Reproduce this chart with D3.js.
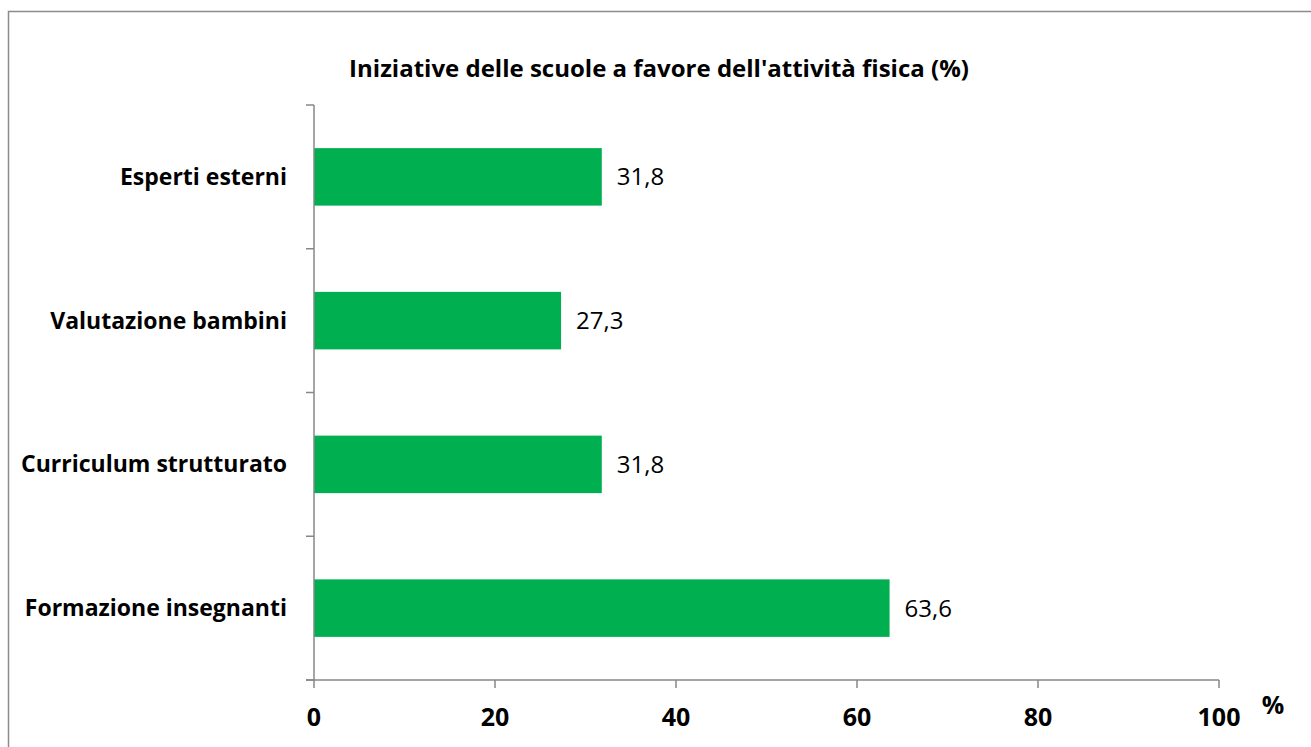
<!DOCTYPE html>
<html><head><meta charset="utf-8">
<script src="https://cdn.jsdelivr.net/npm/d3@7"></script>
<style>body{margin:0;background:#fff;}svg{display:block;font-family:"Open Sans","Lato",sans-serif;}</style>
</head><body>
<svg id="chart" width="1311" height="747"></svg>
<script>
const categories = ["Esperti esterni","Valutazione bambini","Curriculum strutturato","Formazione insegnanti"];
const values = [31.8, 27.3, 31.8, 63.6];
const xTicks = [0,20,40,60,80,100];
const title = "Iniziative delle scuole a favore dell'attività fisica (%)";

const svg = d3.select("#chart");
const fmt = v => d3.format(".1f")(v).replace(".", ",");
const axisColor = "#878787";
const font = '"Open Sans", sans-serif';

svg.append("rect").attr("x",8.5).attr("y",11.5).attr("width",1400).attr("height",800)
  .attr("fill","#fff").attr("stroke","#8c8c8c").attr("stroke-width",1.5);

const x = d3.scaleLinear().domain([0,100]).range([314,1219]);
const y = d3.scaleBand().domain(categories).range([105,680]).paddingInner(0.6).paddingOuter(0.3);
const yb = d3.scaleBand().domain(categories).range([105,680]);

svg.append("text").attr("x",659).attr("y",77).attr("text-anchor","middle")
  .attr("font-family",font).attr("font-weight","bold").attr("font-size",24).attr("fill","#000").text(title);

svg.selectAll("rect.bar").data(values).join("rect").attr("class","bar")
  .attr("x",x(0)).attr("y",(d,i)=>y(categories[i])).attr("width",d=>x(d)-x(0))
  .attr("height",y.bandwidth()).attr("fill","#00B050");

svg.selectAll("text.val").data(values).join("text").attr("class","val")
  .attr("x",d=>x(d)+15).attr("y",(d,i)=>y(categories[i])+y.bandwidth()/2).attr("dy","0.35em")
  .attr("font-family",font).attr("font-size",24).attr("fill","#000").text(d=>fmt(d));

// y axis
const gy = svg.append("g");
gy.append("line").attr("x1",314).attr("x2",314).attr("y1",105).attr("y2",680).attr("stroke",axisColor).attr("stroke-width",1.5);
const yTickPos = categories.map(c=>yb(c)).concat([680]);
gy.selectAll("line.t").data(yTickPos).join("line").attr("class","t")
  .attr("x1",306).attr("x2",314).attr("y1",d=>d).attr("y2",d=>d).attr("stroke",axisColor).attr("stroke-width",1.5);
gy.selectAll("text").data(categories).join("text")
  .attr("x",287).attr("y",c=>yb(c)+yb.bandwidth()/2).attr("dy","0.35em").attr("text-anchor","end")
  .attr("font-family",font).attr("font-weight","bold").attr("font-size",23).attr("fill","#000").text(c=>c);

// x axis
const gx = svg.append("g");
gx.append("line").attr("x1",306).attr("x2",1219).attr("y1",680).attr("y2",680).attr("stroke",axisColor).attr("stroke-width",1.5);
gx.selectAll("line.t").data(xTicks).join("line").attr("class","t")
  .attr("x1",d=>x(d)).attr("x2",d=>x(d)).attr("y1",680).attr("y2",688).attr("stroke",axisColor).attr("stroke-width",1.5);
gx.selectAll("text").data(xTicks).join("text")
  .attr("x",d=>x(d)).attr("y",726).attr("text-anchor","middle")
  .attr("font-family",font).attr("font-weight","bold").attr("font-size",25).attr("fill","#000").text(d=>d);
svg.append("text").attr("x",1273).attr("y",714).attr("text-anchor","middle")
  .attr("font-family",font).attr("font-weight","bold").attr("font-size",25).attr("fill","#000").text("%");
</script>
</body></html>
